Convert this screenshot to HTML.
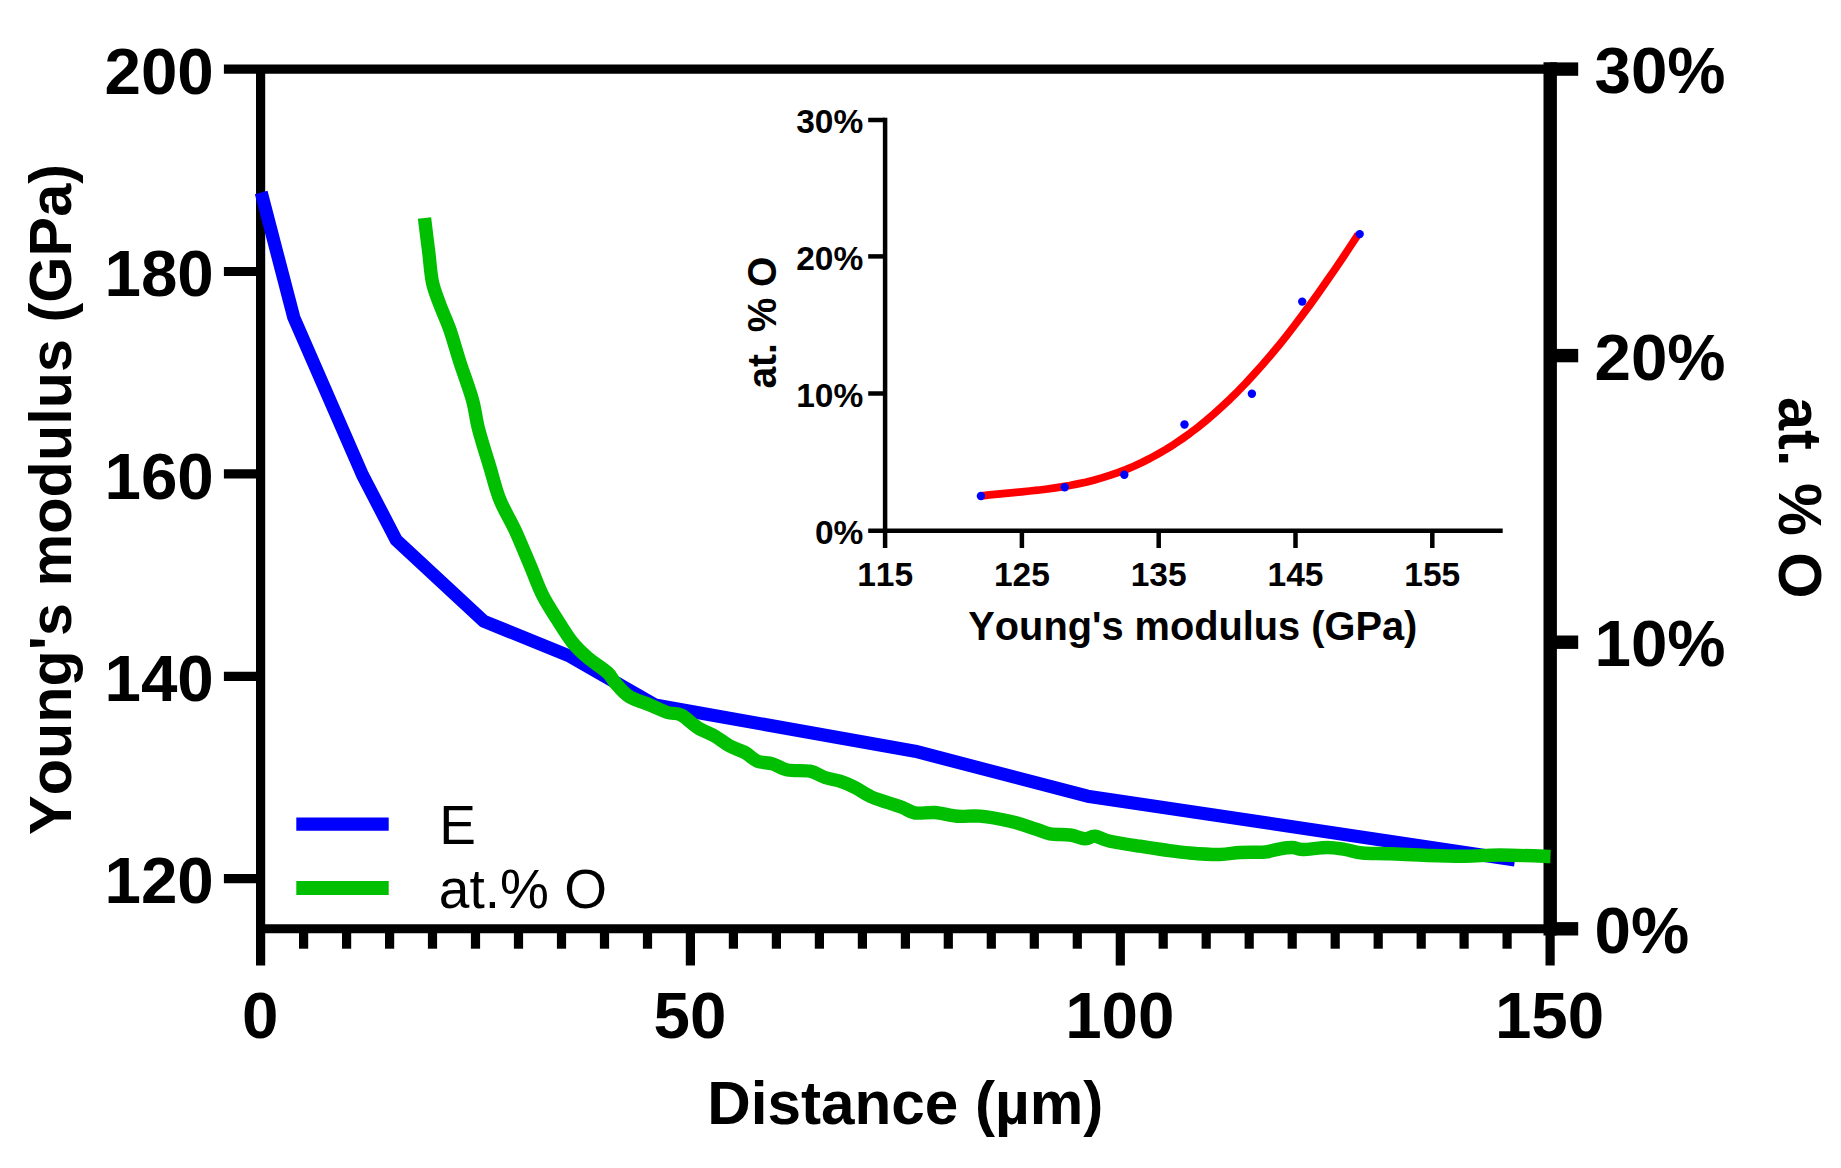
<!DOCTYPE html>
<html lang="en"><head><meta charset="utf-8"><title>Young's modulus and at.% O vs distance</title>
<style>html,body{margin:0;padding:0;background:#fff}svg{display:block}text{font-kerning:none;font-family:"Liberation Sans",sans-serif;fill:#000}.b{font-weight:bold}</style></head><body>
<svg width="1841" height="1168" viewBox="0 0 1841 1168">
<rect width="1841" height="1168" fill="#fff"/>
<g stroke="#000" fill="none" stroke-linecap="butt">
<line x1="223.9" y1="69.06" x2="1550" y2="69.06" stroke-width="9.2"/>
<line x1="260.6" y1="69.06" x2="260.6" y2="965.5" stroke-width="9.2"/>
<line x1="256.0" y1="928.75" x2="1550" y2="928.75" stroke-width="9.2"/>
<line x1="223.9" y1="271.5" x2="260.6" y2="271.5" stroke-width="9.2"/>
<line x1="223.9" y1="473.9" x2="260.6" y2="473.9" stroke-width="9.2"/>
<line x1="223.9" y1="676.3" x2="260.6" y2="676.3" stroke-width="9.2"/>
<line x1="223.9" y1="878.7" x2="260.6" y2="878.7" stroke-width="9.2"/>
<line x1="303.6" y1="928.75" x2="303.6" y2="948.7" stroke-width="9.2"/>
<line x1="346.6" y1="928.75" x2="346.6" y2="948.7" stroke-width="9.2"/>
<line x1="389.6" y1="928.75" x2="389.6" y2="948.7" stroke-width="9.2"/>
<line x1="432.5" y1="928.75" x2="432.5" y2="948.7" stroke-width="9.2"/>
<line x1="475.5" y1="928.75" x2="475.5" y2="948.7" stroke-width="9.2"/>
<line x1="518.5" y1="928.75" x2="518.5" y2="948.7" stroke-width="9.2"/>
<line x1="561.5" y1="928.75" x2="561.5" y2="948.7" stroke-width="9.2"/>
<line x1="604.5" y1="928.75" x2="604.5" y2="948.7" stroke-width="9.2"/>
<line x1="647.5" y1="928.75" x2="647.5" y2="948.7" stroke-width="9.2"/>
<line x1="690.4" y1="928.75" x2="690.4" y2="965.5" stroke-width="9.2"/>
<line x1="733.4" y1="928.75" x2="733.4" y2="948.7" stroke-width="9.2"/>
<line x1="776.4" y1="928.75" x2="776.4" y2="948.7" stroke-width="9.2"/>
<line x1="819.4" y1="928.75" x2="819.4" y2="948.7" stroke-width="9.2"/>
<line x1="862.4" y1="928.75" x2="862.4" y2="948.7" stroke-width="9.2"/>
<line x1="905.4" y1="928.75" x2="905.4" y2="948.7" stroke-width="9.2"/>
<line x1="948.3" y1="928.75" x2="948.3" y2="948.7" stroke-width="9.2"/>
<line x1="991.3" y1="928.75" x2="991.3" y2="948.7" stroke-width="9.2"/>
<line x1="1034.3" y1="928.75" x2="1034.3" y2="948.7" stroke-width="9.2"/>
<line x1="1077.3" y1="928.75" x2="1077.3" y2="948.7" stroke-width="9.2"/>
<line x1="1120.3" y1="928.75" x2="1120.3" y2="965.5" stroke-width="9.2"/>
<line x1="1163.2" y1="928.75" x2="1163.2" y2="948.7" stroke-width="9.2"/>
<line x1="1206.2" y1="928.75" x2="1206.2" y2="948.7" stroke-width="9.2"/>
<line x1="1249.2" y1="928.75" x2="1249.2" y2="948.7" stroke-width="9.2"/>
<line x1="1292.2" y1="928.75" x2="1292.2" y2="948.7" stroke-width="9.2"/>
<line x1="1335.2" y1="928.75" x2="1335.2" y2="948.7" stroke-width="9.2"/>
<line x1="1378.2" y1="928.75" x2="1378.2" y2="948.7" stroke-width="9.2"/>
<line x1="1421.2" y1="928.75" x2="1421.2" y2="948.7" stroke-width="9.2"/>
<line x1="1464.1" y1="928.75" x2="1464.1" y2="948.7" stroke-width="9.2"/>
<line x1="1507.1" y1="928.75" x2="1507.1" y2="948.7" stroke-width="9.2"/>
<line x1="1550.1" y1="928.75" x2="1550.1" y2="965.5" stroke-width="9.2"/>
<line x1="1550.2" y1="62.36" x2="1550.2" y2="935.45" stroke-width="13.4"/>
<line x1="1550" y1="928.8" x2="1578.2" y2="928.8" stroke-width="13.4"/>
<line x1="1550" y1="642.2" x2="1578.2" y2="642.2" stroke-width="13.4"/>
<line x1="1550" y1="355.6" x2="1578.2" y2="355.6" stroke-width="13.4"/>
<line x1="1550" y1="69.1" x2="1578.2" y2="69.1" stroke-width="13.4"/>
</g>
<path d="M261.2,192.5 L293.8,317.5 L362.5,475.0 L396.2,540.0 L483.8,621.2 L570.0,656.2 L655.0,705.0 L915.0,751.2 L1087.5,796.2 L1515.0,860.0" fill="none" stroke="#0000ff" stroke-width="13.1" stroke-linejoin="round"/>
<path d="M424.5,218.0 C425.2,223.8 427.4,241.8 428.8,252.5 C430.1,263.2 430.6,273.8 432.5,282.5 C434.4,291.2 437.1,297.1 440.0,305.0 C442.9,312.9 446.7,320.4 450.0,330.0 C453.3,339.6 456.2,350.8 460.0,362.5 C463.8,374.2 469.4,388.8 472.5,400.0 C475.6,411.2 475.8,418.8 478.8,430.0 C481.7,441.2 486.5,455.8 490.0,467.5 C493.5,479.2 495.8,489.6 500.0,500.0 C504.2,510.4 510.0,519.2 515.0,530.0 C520.0,540.8 525.4,554.2 530.0,565.0 C534.6,575.8 537.9,585.8 542.5,595.0 C547.1,604.2 552.5,612.1 557.5,620.0 C562.5,627.9 567.5,636.2 572.5,642.5 C577.5,648.8 581.7,652.5 587.5,657.5 C593.3,662.5 602.9,668.3 607.5,672.5 C612.1,676.7 611.5,678.5 615.0,682.5 C618.5,686.5 622.9,692.5 628.8,696.2 C634.6,700.0 643.5,702.3 650.0,705.0 C656.5,707.7 662.3,710.8 667.5,712.5 C672.7,714.2 676.2,712.5 681.2,715.0 C686.2,717.5 691.9,724.0 697.5,727.5 C703.1,731.0 709.6,733.1 715.0,736.2 C720.4,739.4 725.0,743.5 730.0,746.2 C735.0,749.0 740.4,750.0 745.0,752.5 C749.6,755.0 752.9,759.4 757.5,761.2 C762.1,763.1 767.5,762.3 772.5,763.8 C777.5,765.2 781.2,768.8 787.5,770.0 C793.8,771.2 803.8,770.0 810.0,771.2 C816.2,772.5 820.0,775.8 825.0,777.5 C830.0,779.2 835.0,779.6 840.0,781.2 C845.0,782.9 850.0,785.0 855.0,787.5 C860.0,790.0 864.6,793.8 870.0,796.2 C875.4,798.8 882.1,800.6 887.5,802.5 C892.9,804.4 897.9,805.8 902.5,807.5 C907.1,809.2 909.6,812.2 915.0,813.0 C920.4,813.8 927.9,812.0 935.0,812.5 C942.1,813.0 950.0,815.6 957.5,816.2 C965.0,816.9 971.2,815.4 980.0,816.2 C988.8,817.1 1000.8,819.2 1010.0,821.2 C1019.2,823.3 1028.3,826.7 1035.0,828.8 C1041.7,830.8 1044.2,832.7 1050.0,833.8 C1055.8,834.8 1064.2,834.2 1070.0,835.0 C1075.8,835.8 1080.8,838.5 1085.0,838.8 C1089.2,839.0 1090.8,835.8 1095.0,836.2 C1099.2,836.7 1102.5,839.6 1110.0,841.2 C1117.5,842.9 1130.8,844.8 1140.0,846.2 C1149.2,847.7 1156.7,848.9 1165.0,850.0 C1173.3,851.1 1180.8,852.2 1190.0,853.0 C1199.2,853.8 1211.7,854.6 1220.0,854.5 C1228.3,854.4 1232.5,852.9 1240.0,852.5 C1247.5,852.1 1258.3,852.6 1265.0,852.0 C1271.7,851.4 1275.4,849.5 1280.0,848.8 C1284.6,848.0 1288.8,847.4 1292.5,847.5 C1296.2,847.6 1296.7,849.5 1302.5,849.5 C1308.3,849.5 1320.4,847.5 1327.5,847.5 C1334.6,847.5 1339.2,848.6 1345.0,849.5 C1350.8,850.4 1355.0,852.3 1362.5,853.0 C1370.0,853.7 1379.2,853.3 1390.0,853.8 C1400.8,854.2 1415.0,855.1 1427.5,855.5 C1440.0,855.9 1452.9,856.3 1465.0,856.2 C1477.1,856.2 1485.8,855.0 1500.0,855.0 C1514.2,855.0 1542.1,856.2 1550.5,856.5" fill="none" stroke="#00bf00" stroke-width="13.4" stroke-linejoin="round"/>
<line x1="296.3" y1="824.2" x2="388.7" y2="824.2" stroke="#0000ff" stroke-width="13.2"/>
<line x1="296.3" y1="888" x2="388.7" y2="888" stroke="#00bf00" stroke-width="14"/>
<text x="439.3" y="843.8" font-size="55">E</text>
<text x="438.8" y="907.8" font-size="55">at.% O</text>
<g class="b" font-size="65.5">
<text x="213.8" y="93.7" text-anchor="end">200</text>
<text x="213.8" y="296.1" text-anchor="end">180</text>
<text x="213.8" y="498.5" text-anchor="end">160</text>
<text x="213.8" y="700.9" text-anchor="end">140</text>
<text x="213.8" y="903.3" text-anchor="end">120</text>
<text x="260.1" y="1038" text-anchor="middle">0</text>
<text x="689.9" y="1038" text-anchor="middle">50</text>
<text x="1119.8" y="1038" text-anchor="middle">100</text>
<text x="1549.6" y="1038" text-anchor="middle">150</text>
<text x="1594.5" y="952.8">0%</text>
<text x="1594.5" y="666.2">10%</text>
<text x="1594.5" y="379.6">20%</text>
<text x="1594.5" y="93.1">30%</text>
</g>
<g class="b" font-size="60.5">
<text x="905.3" y="1124" text-anchor="middle" font-size="61" textLength="396" lengthAdjust="spacingAndGlyphs">Distance (µm)</text>
<text transform="translate(70.6,499.5) rotate(-90)" text-anchor="middle" font-size="59.8" textLength="671" lengthAdjust="spacingAndGlyphs">Young's modulus (GPa)</text>
<text transform="translate(1778.6,497.8) rotate(90)" text-anchor="middle" textLength="201.5" lengthAdjust="spacingAndGlyphs">at. % O</text>
</g>
<g stroke="#000" fill="none" stroke-width="4.5">
<line x1="885.1" y1="117.8" x2="885.1" y2="548"/>
<line x1="868.2" y1="530.85" x2="1502.7" y2="530.85"/>
<line x1="868.2" y1="393.5" x2="885.1" y2="393.5"/>
<line x1="868.2" y1="256.4" x2="885.1" y2="256.4"/>
<line x1="868.2" y1="120.0" x2="885.1" y2="120.0"/>
<line x1="1021.9" y1="530.85" x2="1021.9" y2="548"/>
<line x1="1158.7" y1="530.85" x2="1158.7" y2="548"/>
<line x1="1295.5" y1="530.85" x2="1295.5" y2="548"/>
<line x1="1432.3" y1="530.85" x2="1432.3" y2="548"/>
</g>
<path d="M981.5,495.8 L989.5,494.9 L997.5,494.1 L1005.5,493.3 L1013.6,492.6 L1021.6,491.8 L1029.6,491.0 L1037.6,490.2 L1045.6,489.2 L1053.6,488.1 L1061.6,486.9 L1069.7,485.5 L1077.7,483.9 L1085.7,482.2 L1093.7,480.2 L1101.7,477.9 L1109.7,475.4 L1117.8,472.6 L1125.8,469.6 L1133.8,466.2 L1141.8,462.5 L1149.8,458.5 L1157.8,454.1 L1165.8,449.5 L1173.9,444.4 L1181.9,439.0 L1189.9,433.3 L1197.9,427.2 L1205.9,420.7 L1213.9,413.9 L1221.9,406.7 L1230.0,399.1 L1238.0,391.2 L1246.0,382.9 L1254.0,374.2 L1262.0,365.3 L1270.0,355.9 L1278.1,346.3 L1286.1,336.3 L1294.1,326.0 L1302.1,315.4 L1310.1,304.6 L1318.1,293.4 L1326.1,282.0 L1334.2,270.4 L1342.2,258.6 L1350.2,246.5 L1358.2,234.3" fill="none" stroke="#ff0000" stroke-width="7.7" stroke-linejoin="round"/>
<circle cx="980.9" cy="496.0" r="4.2" fill="#0000ff"/>
<circle cx="1064.7" cy="487.2" r="4.2" fill="#0000ff"/>
<circle cx="1124.3" cy="474.8" r="4.2" fill="#0000ff"/>
<circle cx="1184.5" cy="424.5" r="4.2" fill="#0000ff"/>
<circle cx="1251.9" cy="393.7" r="4.2" fill="#0000ff"/>
<circle cx="1302.2" cy="301.6" r="4.2" fill="#0000ff"/>
<circle cx="1359.7" cy="234.1" r="4.2" fill="#0000ff"/>
<g class="b" font-size="33.5">
<text x="863.3" y="544.1" text-anchor="end">0%</text>
<text x="863.3" y="406.7" text-anchor="end">10%</text>
<text x="863.3" y="269.6" text-anchor="end">20%</text>
<text x="863.3" y="133.2" text-anchor="end">30%</text>
<text x="885.1" y="585.5" text-anchor="middle">115</text>
<text x="1021.9" y="585.5" text-anchor="middle">125</text>
<text x="1158.7" y="585.5" text-anchor="middle">135</text>
<text x="1295.5" y="585.5" text-anchor="middle">145</text>
<text x="1432.3" y="585.5" text-anchor="middle">155</text>
</g>
<g class="b" font-size="39">
<text x="1192.8" y="640.3" text-anchor="middle" font-size="40" textLength="449" lengthAdjust="spacingAndGlyphs">Young's modulus (GPa)</text>
<text transform="translate(775.6,322.6) rotate(-90)" text-anchor="middle" font-size="40" textLength="132" lengthAdjust="spacingAndGlyphs">at. % O</text>
</g>
</svg></body></html>
